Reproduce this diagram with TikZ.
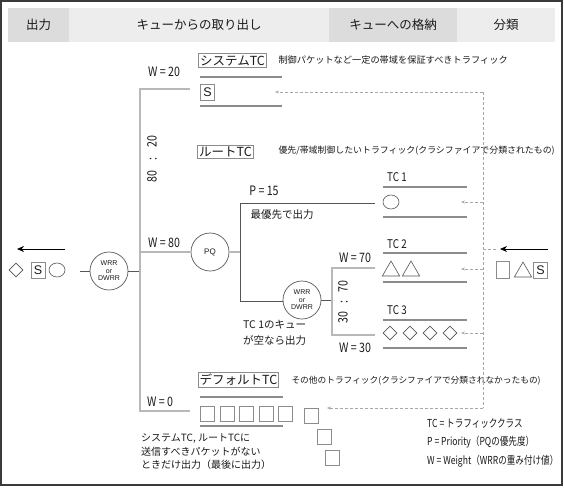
\documentclass[tikz,border=0pt]{standalone}
\usepackage{fontspec}
\usepackage{graphicx}
\setmainfont{Noto Sans CJK JP}
\newfontfamily\lsans{Liberation Sans}
\newcommand\nx[1]{\scalebox{0.82}[1]{#1}}
\newcommand\nlg[1]{\scalebox{0.78}[1]{#1}}
\usetikzlibrary{arrows.meta,shapes.geometric}
\definecolor{hdrdark}{HTML}{DCDCDC}
\definecolor{hdrlight}{HTML}{EDEDED}
\definecolor{framec}{HTML}{3A3A3A}
\definecolor{busc}{HTML}{B8B8B8}
\definecolor{dkc}{HTML}{555555}
\definecolor{qc}{HTML}{8C8C8C}
\definecolor{dashc}{HTML}{A8A8A8}
\definecolor{txtc}{HTML}{1A1A1A}
\begin{document}
\begin{tikzpicture}[x=1pt,y=-1pt,
  every node/.style={text=txtc},
  fs/.style={font=\fontsize{#1}{#1}\selectfont},
  bus/.style={draw=busc,line width=1.8pt},
  dk/.style={draw=dkc,line width=0.8pt},
  mid/.style={draw=busc,line width=1.5pt},
  brk/.style={draw=busc,line width=1.8pt},
  qline/.style={draw=qc,line width=1.3pt},
  circ/.style={circle,draw=dkc,line width=0.7pt,minimum size=38pt,inner sep=0pt,fill=white},
  lbox/.style={draw=qc,line width=0.8pt,inner sep=1.5pt,font=\fontsize{12.5}{12.5}\selectfont},
  sbox/.style={draw=qc,line width=0.8pt,minimum width=14pt,minimum height=16pt,inner sep=0pt,font=\lsans\fontsize{12.5}{12.5}\selectfont},
  ebox/.style={draw=qc,line width=0.8pt,minimum width=14pt,minimum height=15pt,inner sep=0pt},
  oval/.style={ellipse,draw=dkc,line width=0.6pt,minimum width=16pt,minimum height=14pt,inner sep=0pt},
  tri/.style={regular polygon,regular polygon sides=3,draw=dkc,line width=0.6pt,minimum size=20pt,inner sep=0pt},
  dia/.style={diamond,draw=dkc,line width=0.6pt,minimum width=14pt,minimum height=14pt,inner sep=0pt},
  dsh/.style={draw=dashc,line width=0.7pt,dash pattern=on 3pt off 2pt},
  darr/.style={dsh,-{Stealth[length=4pt,width=3pt]}},
  sarr/.style={draw=black,line width=0.8pt,-{Stealth[length=7pt,width=6pt]}}
]
\useasboundingbox (0,0) rectangle (564,487);
\fill[white] (0,0) rectangle (564,487);
% header band
\fill[hdrdark] (8,8) rectangle (69,42);
\fill[hdrlight] (69,8) rectangle (329,42);
\fill[hdrdark] (329,8) rectangle (457,42);
\fill[hdrlight] (457,8) rectangle (555,42);
\node[fs=12.5] (h1) at (38.5,25) {出力};
\node[fs=12.5] (h2) at (199,25) {キューからの取り出し};
\node[fs=12.5] (h3) at (393,25) {キューへの格納};
\node[fs=12.5] (h4) at (506,25) {分類};
% frame
\draw[framec,line width=1.6pt] (1.2,1.2) rectangle (561.8,484.8);

% ---------- output side ----------
\coordinate (oarrS) at (65,249);
\coordinate (oarrE) at (17,249);
\draw[sarr] (oarrS) -- (oarrE);
\node[dia] (od) at (16,270) {};
\node[sbox] (os) at (38,270) {S};
\node[oval] (oc) at (57,270) {};

\node[circ,align=center,font=\lsans\fontsize{7}{7.5}\selectfont] (wrr1) at (109,271) {WRR\\or\\DWRR};
\coordinate (outL) at (80,271);
\coordinate (busM) at (140,271);
\draw[dk] (outL) -- (wrr1.west);
\draw[dk] (wrr1.east) -- (busM);

% bus
\coordinate (w20e) at (190,89);
\coordinate (busT) at (140,89);
\coordinate (busB) at (140,411);
\coordinate (w0e) at (190,411);
\coordinate (busW80) at (140,252);
\draw[bus] (w20e) -- (busT) -- (busB) -- (w0e);
\node[fs=13] (w20) at (164,72) {\nx{W = 20}};
\node[fs=13] (w80) at (164,243) {\nx{W = 80}};
\node[fs=13] (w0) at (160,402) {\nx{W = 0}};
\node[fs=13,rotate=90] (r8020) at (152,159) {\nx{80\hspace{12pt}:\hspace{12pt}20}};

% PQ
\node[circ,font=\lsans\fontsize{8}{8}\selectfont] (pq) at (210,252) {PQ};
\draw[bus] (busW80) -- (pq.west);
\coordinate (pqj) at (240,252);
\draw[mid] (pq.east) -- (pqj);
\coordinate (p15c) at (240,203);
\coordinate (p15e) at (375,203);
\coordinate (pqlow) at (240,301);
\node[circ,align=center,font=\lsans\fontsize{7}{7.5}\selectfont] (wrr2) at (302,300) {WRR\\or\\DWRR};
\draw[dk] (p15e) -- (p15c) -- (pqlow) -- (wrr2.west |- pqlow);
\node[fs=13] (p15) at (264,191) {\nx{P = 15}};
\node[fs=10.5,anchor=west] (saiyu) at (247,215) {最優先で出力};
\node[font=\fontsize{10.5}{15.5}\selectfont,align=left,anchor=north west,inner sep=0pt] (tc1note) at (243,320) {TC 1のキュー\\が空なら出力};

% bracket
\coordinate (brM) at (332,300);
\coordinate (br1) at (332,268);
\coordinate (br2) at (332,335);
\coordinate (w70e) at (375,268);
\coordinate (w30e) at (375,335);
\draw[dk] (wrr2.east) -- (brM);
\draw[brk] (w70e) -- (br1) -- (br2) -- (w30e);
\node[fs=13] (w70) at (355,258) {\nx{W = 70}};
\node[fs=13] (w30) at (355,348) {\nx{W = 30}};
\node[fs=13,rotate=90] (r3070) at (343,302) {\nx{30\hspace{10pt}:\hspace{10pt}70}};

% ---------- system TC ----------
\node[lbox] (sys) at (232.5,60.5) {システムTC};
\node[fs=9.2,anchor=west] (sysd) at (275,60) {制御パケットなど一定の帯域を保証すべきトラフィック};
\draw[qline] (200,77) -- (282,77);
\draw[qline] (200,106) -- (282,106);
\node[sbox] (qs) at (207.5,92) {S};

% ---------- root TC ----------
\node[lbox] (root) at (225.5,152) {ルートTC};
\node[fs=8.9,anchor=west] (rootd) at (275,151) {優先/帯域制御したいトラフィック(クラシファイアで分類されたもの)};

% TC1
\node[fs=12] (tc1) at (397,177) {\nx{TC 1}};
\draw[qline] (383,187) -- (467,187);
\draw[qline] (383,217) -- (467,217);
\node[oval] (c1) at (391,202) {};
% TC2
\node[fs=12] (tc2) at (397,244) {\nx{TC 2}};
\draw[qline] (383,253) -- (467,253);
\draw[qline] (383,282) -- (467,282);
\node[tri] (t1) at (391,271) {};
\node[tri] (t2) at (411,271) {};
% TC3
\node[fs=12] (tc3) at (397,310) {\nx{TC 3}};
\draw[qline] (383,320) -- (467,320);
\draw[qline] (383,348) -- (467,348);
\node[dia] (d1) at (390,333) {};
\node[dia] (d2) at (410,333) {};
\node[dia] (d3) at (430,333) {};
\node[dia] (d4) at (450,333) {};

% ---------- default TC ----------
\node[lbox] (deft) at (238.5,380) {デフォルトTC};
\node[fs=8.7,anchor=west] (deftd) at (288,381) {その他のトラフィック(クラシファイアで分類されなかったもの)};
\draw[qline] (200,397) -- (283,397);
\draw[qline] (200,426) -- (283,426);
\node[ebox] (b1) at (207.5,413.5) {};
\node[ebox] (b2) at (227,413.5) {};
\node[ebox] (b3) at (246.5,413.5) {};
\node[ebox] (b4) at (266,413.5) {};
\node[ebox] (b5) at (285.5,413.5) {};
\node[ebox] (b6) at (311,416) {};
\node[ebox] (b7) at (324,437) {};
\node[ebox] (b8) at (332,458) {};
\node[font=\fontsize{10}{13.5}\selectfont,align=left,anchor=north west,inner sep=0pt] (defnote) at (141,434) {システムTC, ルートTCに\\送信すべきパケットがない\\ときだけ出力（最後に出力）};

% ---------- legend ----------
\node[fs=11,anchor=west,inner sep=0pt] (lg1) at (427,423) {\nlg{TC = トラフィッククラス}};
\node[fs=11,anchor=west,inner sep=0pt] (lg2) at (427,442) {\nlg{P = Priority（PQの優先度）}};
\node[fs=11,anchor=west,inner sep=0pt] (lg3) at (427,461) {\nlg{W = Weight（WRRの重み付け値）}};

% ---------- classification (dashed) ----------
\coordinate (dT) at (483,92);
\coordinate (dB) at (483,408);
\coordinate (dS) at (275,92);
\coordinate (d1) at (483,202);
\coordinate (d2) at (483,269);
\coordinate (d3) at (483,333);
\coordinate (dIn) at (483,249);
\coordinate (aIn) at (497,249);
\coordinate (dDef) at (327,408);
\draw[dsh] (dT) -- (dB);
\draw[darr] (dT) -- (dS);
\draw[darr] (d1) -- (461,202);
\draw[darr] (d2) -- (461,269);
\draw[darr] (d3) -- (461,333);
\draw[darr] (dB) -- (dDef);
\draw[dsh] (dIn) -- (aIn);
\coordinate (iS) at (548,249);
\coordinate (iE) at (500,249);
\draw[sarr] (iS) -- (iE);
% input items
\node[ebox,minimum width=13pt,minimum height=17pt] (ib) at (503,270) {};
\node[tri] (it) at (523,272) {};
\node[sbox] (is) at (540.5,270) {S};
\end{tikzpicture}
\end{document}
